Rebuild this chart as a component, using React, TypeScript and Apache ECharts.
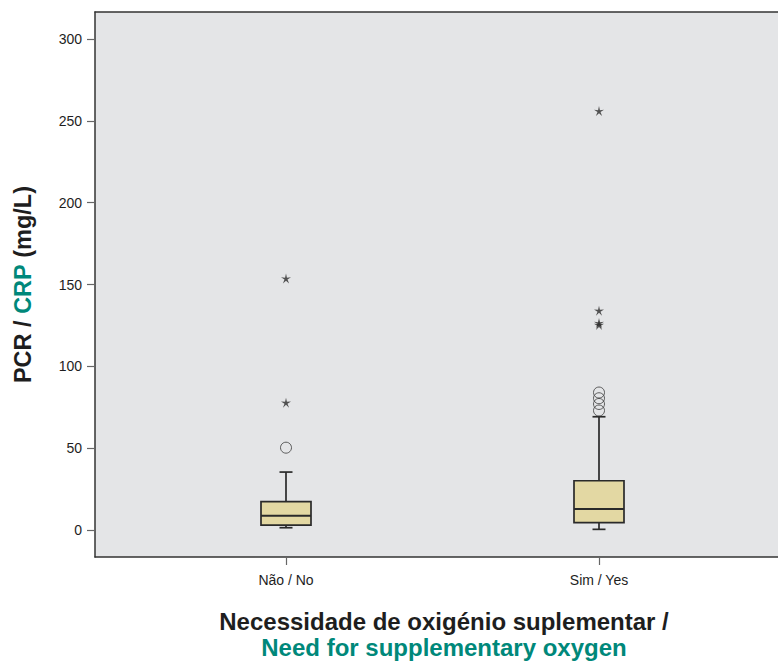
import React, { useEffect, useRef } from "react";
import * as echarts from "echarts";

const categories = ["Não / No", "Sim / Yes"];
// [lower whisker, Q1, median, Q3, upper whisker]
const boxStats = [
  [1.4, 3.0, 8.7, 17.3, 35.4],
  [0.4, 4.5, 12.8, 30.1, 69.2],
];
const circleOutliers = [
  [0, 50.3],
  [1, 73],
  [1, 77],
  [1, 80.5],
  [1, 84],
];
const starOutliers = [
  [0, 77.8],
  [0, 153.7],
  [1, 125.3],
  [1, 126.5],
  [1, 134],
  [1, 256],
];
const yMin = 0;
const yMax = 300;
const yInterval = 50;

const FONT = "'Liberation Sans', Arial, Helvetica, sans-serif";
const TEAL = "#00887a";
const DARK = "#1e1e1e";

function starPath(): string {
  const pts: string[] = [];
  for (let i = 0; i < 10; i++) {
    const a = -Math.PI / 2 + (i * Math.PI) / 5;
    const r = i % 2 === 0 ? 10 : 3;
    pts.push(`${(10 + r * Math.cos(a)).toFixed(2)} ${(10 + r * Math.sin(a)).toFixed(2)}`);
  }
  return "path://M" + pts.join(" L") + " Z";
}

export default function App() {
  const ref = useRef<HTMLDivElement>(null);
  useEffect(() => {
    if (!ref.current) return;
    const chart = echarts.init(ref.current, null, { renderer: "svg" });
    const boxData = boxStats.map((s, i) => [i, ...s]);
    const stroke = "#2a2a2a";
    const hiddenAxis = {
      axisLine: { show: false },
      axisTick: { show: false },
      axisLabel: { show: false },
      splitLine: { show: false },
    };
    const option: any = {
      animation: false,
      backgroundColor: "#ffffff",
      textStyle: { fontFamily: FONT },
      grid: [
        {
          left: 95,
          top: 12,
          right: -10,
          bottom: 105,
          show: true,
          backgroundColor: "#e4e5e7",
          borderWidth: 0,
        },
        { left: 129.5, top: 39, width: 626, height: 491 },
        { left: 129.5, top: 12, width: 626, bottom: 105 },
      ],
      xAxis: [
        {
          gridIndex: 0,
          type: "value",
          position: "bottom",
          axisLine: { show: true, lineStyle: { color: "#333", width: 1.5 } },
          axisTick: { show: false },
          axisLabel: { show: false },
          splitLine: { show: false },
        },
        {
          gridIndex: 0,
          type: "value",
          position: "top",
          axisLine: { show: true, lineStyle: { color: "#333", width: 1.5 } },
          axisTick: { show: false },
          axisLabel: { show: false },
          splitLine: { show: false },
        },
        {
          gridIndex: 1,
          type: "category",
          data: categories,
          boundaryGap: true,
          ...hiddenAxis,
        },
        {
          gridIndex: 2,
          type: "category",
          data: categories,
          boundaryGap: true,
          axisLine: { show: false },
          axisTick: {
            show: true,
            alignWithLabel: true,
            length: 8,
            lineStyle: { color: "#666", width: 1.2 },
          },
          axisLabel: { color: DARK, fontSize: 14, margin: 16, fontFamily: FONT },
          splitLine: { show: false },
        },
      ],
      yAxis: [
        {
          gridIndex: 0,
          type: "value",
          min: 0,
          max: 1,
          axisLine: { show: true, lineStyle: { color: "#333", width: 1.5 } },
          axisTick: { show: false },
          axisLabel: { show: false },
          splitLine: { show: false },
          name: "{a|PCR / }{b|CRP}{a| (mg/L)}",
          nameLocation: "middle",
          nameRotate: 90,
          nameGap: 60,
          nameTextStyle: {
            rich: {
              a: { fontSize: 23.5, fontWeight: "bold", color: DARK, fontFamily: FONT },
              b: { fontSize: 23.5, fontWeight: "bold", color: TEAL, fontFamily: FONT },
            },
          },
        },
        {
          gridIndex: 1,
          type: "value",
          min: yMin,
          max: yMax,
          interval: yInterval,
          offset: 34.5,
          axisLine: { show: false },
          axisTick: { show: true, length: 8, lineStyle: { color: "#666", width: 1.2 } },
          axisLabel: { color: DARK, fontSize: 14, margin: 13, fontFamily: FONT },
          splitLine: { show: false },
        },
        {
          gridIndex: 2,
          type: "value",
          min: 0,
          max: 1,
          ...hiddenAxis,
        },
      ],
      series: [
        {
          type: "custom",
          xAxisIndex: 2,
          yAxisIndex: 1,
          data: boxData,
          encode: { x: 0, y: [1, 2, 3, 4, 5] },
          renderItem: (params: any, api: any) => {
            const idx = api.value(0);
            const lo = api.coord([idx, api.value(1)]);
            const q1 = api.coord([idx, api.value(2)])[1];
            const med = api.coord([idx, api.value(3)])[1];
            const q3 = api.coord([idx, api.value(4)])[1];
            const hi = api.coord([idx, api.value(5)])[1];
            const cx = lo[0];
            const loY = lo[1];
            const hw = 25;
            const cw = 6.5;
            const ls = { stroke, lineWidth: 1.7 };
            return {
              type: "group",
              children: [
                { type: "line", shape: { x1: cx, y1: q3, x2: cx, y2: hi }, style: ls },
                { type: "line", shape: { x1: cx, y1: q1, x2: cx, y2: loY }, style: ls },
                { type: "line", shape: { x1: cx - cw, y1: hi, x2: cx + cw, y2: hi }, style: ls },
                { type: "line", shape: { x1: cx - cw, y1: loY, x2: cx + cw, y2: loY }, style: ls },
                {
                  type: "rect",
                  shape: { x: cx - hw, y: q3, width: hw * 2, height: q1 - q3 },
                  style: { fill: "#e3d8a3", stroke, lineWidth: 1.7 },
                },
                { type: "line", shape: { x1: cx - hw, y1: med, x2: cx + hw, y2: med }, style: { stroke, lineWidth: 2 } },
              ],
            };
          },
          z: 2,
        },
        {
          type: "scatter",
          xAxisIndex: 2,
          yAxisIndex: 1,
          data: circleOutliers,
          symbol: "circle",
          symbolSize: 11,
          itemStyle: { color: "rgba(0,0,0,0)", borderColor: "#3a3a3a", borderWidth: 1 },
          z: 3,
        },
        {
          type: "scatter",
          xAxisIndex: 2,
          yAxisIndex: 1,
          data: starOutliers,
          symbol: starPath(),
          symbolSize: 10,
          itemStyle: { color: "#2a2a2a" },
          z: 3,
        },
      ],
      graphic: [
        {
          type: "text",
          x: 444,
          y: 621,
          style: {
            text: "Necessidade de oxigénio suplementar /",
            fill: DARK,
            font: `bold 24px ${FONT}`,
            align: "center",
            verticalAlign: "middle",
          },
        },
        {
          type: "text",
          x: 444,
          y: 647,
          style: {
            text: "Need for supplementary oxygen",
            fill: TEAL,
            font: `bold 24px ${FONT}`,
            align: "center",
            verticalAlign: "middle",
          },
        },
      ],
    };
    chart.setOption(option);
    return () => chart.dispose();
  }, []);
  return (
    <div
      ref={ref}
      style={{ position: "fixed", left: 0, top: 0, width: 778, height: 662 }}
    />
  );
}
